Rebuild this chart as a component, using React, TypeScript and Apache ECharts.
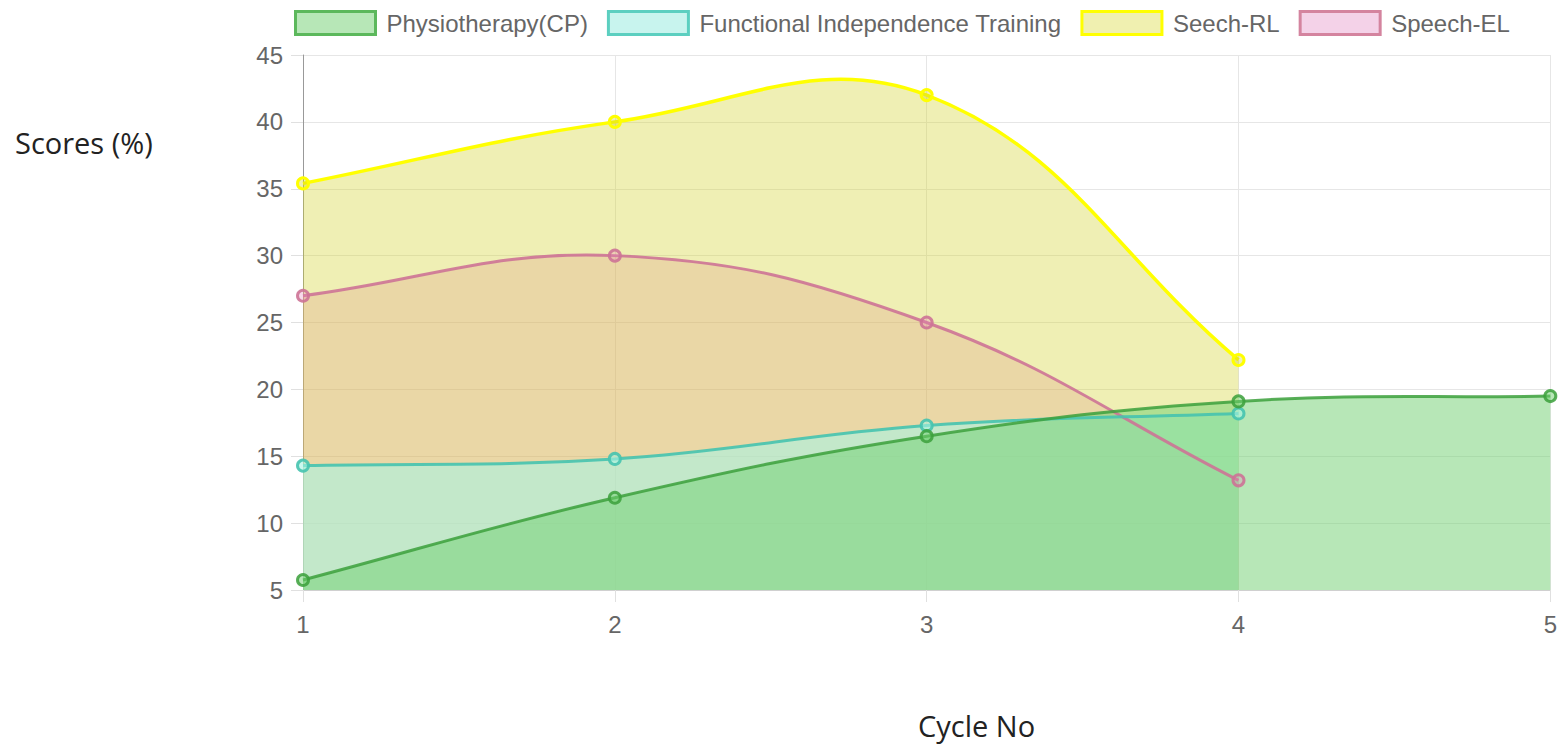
import React, { useEffect, useRef } from "react";
import * as echarts from "echarts";

const categories = ["1", "2", "3", "4", "5"];
const physio = [5.75, 11.9, 16.5, 19.1, 19.5];
const fit = [14.3, 14.8, 17.3, 18.2, null];
const seechRL = [35.4, 40, 42, 22.2, null];
const speechEL = [27, 30, 25, 13.2, null];
const seriesNames = ["Physiotherapy(CP)", "Functional Independence Training", "Seech-RL", "Speech-EL"];
const yTitle = "Scores (%)";
const xTitle = "Cycle No";

const FONT = "'Liberation Sans', Arial, Helvetica, sans-serif";
const TITLE_FONT = "'Open Sans', 'Noto Sans', sans-serif";
const TENSION = 0.4;

type Pt = [number, number];

function splinePath(pts: Pt[]): string {
  const cps = pts.map((cur, i) => {
    const prev = pts[i - 1] || cur;
    const next = pts[i + 1] || cur;
    const d01 = Math.hypot(cur[0] - prev[0], cur[1] - prev[1]);
    const d12 = Math.hypot(next[0] - cur[0], next[1] - cur[1]);
    let s01 = d01 / (d01 + d12);
    let s12 = d12 / (d01 + d12);
    if (!isFinite(s01)) s01 = 0;
    if (!isFinite(s12)) s12 = 0;
    const fa = TENSION * s01;
    const fb = TENSION * s12;
    return {
      prev: [cur[0] - fa * (next[0] - prev[0]), cur[1] - fa * (next[1] - prev[1])],
      next: [cur[0] + fb * (next[0] - prev[0]), cur[1] + fb * (next[1] - prev[1])],
    };
  });
  let d = `M${pts[0][0]} ${pts[0][1]}`;
  for (let i = 1; i < pts.length; i++) {
    const c1 = cps[i - 1].next;
    const c2 = cps[i].prev;
    d += ` C${c1[0]} ${c1[1]} ${c2[0]} ${c2[1]} ${pts[i][0]} ${pts[i][1]}`;
  }
  return d;
}

export default function App() {
  const ref = useRef<HTMLDivElement>(null);
  useEffect(() => {
    document.body.style.margin = "0";
    const chart = echarts.init(ref.current!, null, { renderer: "svg" });

    const mk = (name: string, values: (number | null)[], line: string, fill: string, order: number, lw: number) => {
      const data = values
        .map((v, i) => (v == null ? null : [i, v]))
        .filter((d) => d != null) as number[][];
      return {
        name,
        type: "custom",
        coordinateSystem: "cartesian2d",
        data,
        encode: { x: 0, y: 1 },
        silent: true,
        itemStyle: { color: fill, borderColor: line },
        renderItem: (params: any, api: any) => {
          const children: any[] = [];
          if (params.dataIndex === 0) {
            const pts: Pt[] = data.map((d) => api.coord([d[0], d[1]]) as Pt);
            const bottom = api.coord([0, 5])[1];
            const lineD = splinePath(pts);
            const areaD =
              lineD + ` L${pts[pts.length - 1][0]} ${bottom} L${pts[0][0]} ${bottom} Z`;
            children.push({
              type: "path",
              shape: { pathData: areaD },
              style: { fill, stroke: "none" },
              z2: order,
            });
            children.push({
              type: "path",
              shape: { pathData: lineD },
              style: { fill: "none", stroke: line, lineWidth: lw },
              z2: 10 + 2 * order,
            });
          }
          const p = api.coord([api.value(0), api.value(1)]);
          children.push({
            type: "circle",
            shape: { cx: p[0], cy: p[1], r: 5.5 },
            style: { fill, stroke: line, lineWidth: 3 },
            z2: 11 + 2 * order,
          });
          return { type: "group", children };
        },
      };
    };

    chart.setOption({
      animation: false,
      legend: {
        top: 5,
        left: 289,
        itemWidth: 80,
        itemHeight: 23,
        itemGap: 19,
        icon: "rect",
        textStyle: { fontFamily: FONT, fontSize: 24, color: "#666", padding: [0, 0, 0, 6] },
        data: [
          { name: seriesNames[0], itemStyle: { color: "#b7e7b7", borderColor: "#5cb85c", borderWidth: 3 } },
          { name: seriesNames[1], itemStyle: { color: "#c8f4ee", borderColor: "#5ccfc0", borderWidth: 3 } },
          { name: seriesNames[2], itemStyle: { color: "#f0f0b0", borderColor: "#ffff00", borderWidth: 3 } },
          { name: seriesNames[3], itemStyle: { color: "#f4d2e8", borderColor: "#d4849f", borderWidth: 3 } },
        ],
      },
      grid: { left: 303, right: 9, top: 55, bottom: 158 },
      xAxis: {
        type: "category",
        data: categories,
        boundaryGap: false,
        axisLine: { show: true, lineStyle: { color: "#d0d0d0", width: 1 } },
        axisTick: { show: true, length: 12, lineStyle: { color: "#e0e0e0" } },
        axisLabel: { fontFamily: FONT, fontSize: 24, color: "#666", margin: 22 },
        splitLine: { show: true, lineStyle: { color: "#e6e6e6" } },
      },
      yAxis: {
        type: "value",
        min: 5,
        max: 45,
        interval: 5,
        axisLine: { show: true, lineStyle: { color: "#999", width: 1 } },
        axisTick: { show: true, length: 12, lineStyle: { color: "#e0e0e0" } },
        axisLabel: { fontFamily: FONT, fontSize: 24, color: "#666", margin: 20 },
        splitLine: { show: true, lineStyle: { color: "#e6e6e6" } },
      },
      graphic: [
        {
          type: "text",
          x: 15,
          y: 142,
          style: { text: yTitle, fontFamily: TITLE_FONT, fontSize: 29, fill: "#222", verticalAlign: "middle" },
        },
        {
          type: "text",
          x: 918,
          y: 725,
          style: { text: xTitle, fontFamily: TITLE_FONT, fontSize: 29, fill: "#222", verticalAlign: "middle" },
        },
      ],
      series: [
        mk(seriesNames[3], speechEL, "rgba(205,115,150,0.9)", "rgba(232,132,185,0.3)", 0, 3),
        mk(seriesNames[2], seechRL, "#ffff00", "rgba(209,209,41,0.35)", 1, 3.5),
        mk(seriesNames[1], fit, "rgba(70,195,175,0.9)", "rgba(169,243,226,0.6)", 2, 3),
        mk(seriesNames[0], physio, "rgba(60,160,60,0.85)", "rgba(111,207,111,0.5)", 3, 3),
      ],
    });
    return () => chart.dispose();
  }, []);
  return <div ref={ref} style={{ width: 1560, height: 748 }} />;
}
